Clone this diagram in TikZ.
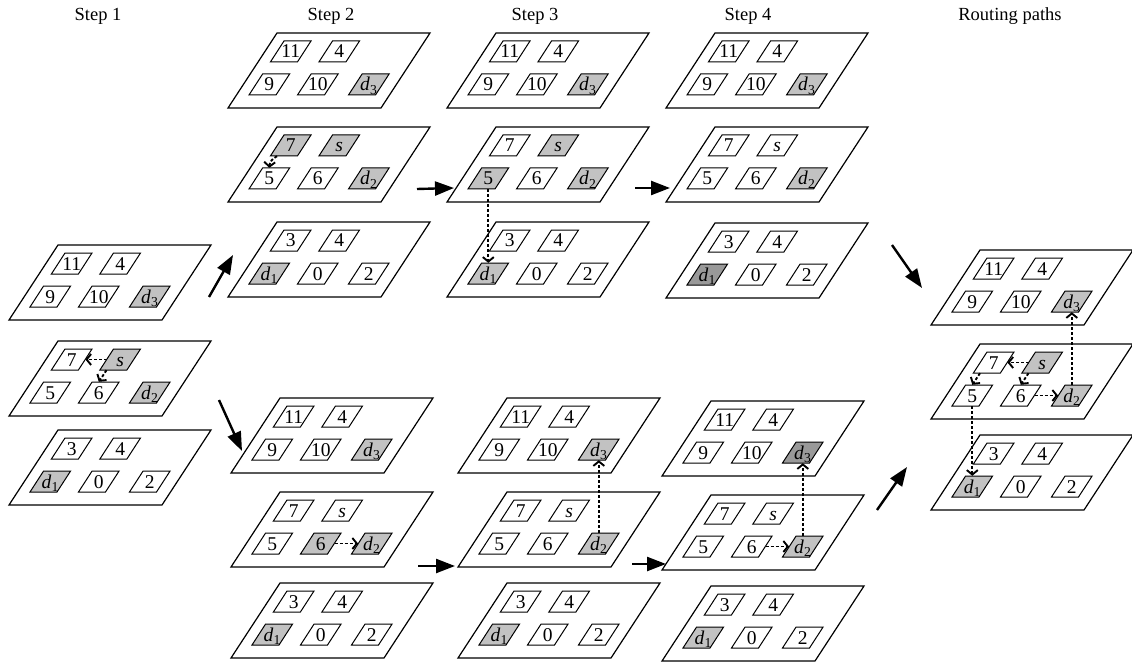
\documentclass[tikz,border=0pt]{standalone}
\usepackage{fontspec}
\setmainfont{Liberation Serif}
\usetikzlibrary{arrows.meta}
\definecolor{lg}{gray}{0.76}
\definecolor{dg}{gray}{0.6}
\newcommand\dsub[1]{\textit{d}\textsubscript{#1}}
\tikzset{
  layerline/.style={draw, line width=1.2pt, fill=white},
  cellline/.style={draw, line width=1pt},
  cell/.style={inner sep=0pt, minimum width=27pt, minimum height=21pt,
    font=\fontsize{19.5}{19.5}\selectfont, text height=13pt, text depth=0pt},
  head/.style={anchor=base, inner sep=0pt, font=\fontsize{18.5}{18.5}\selectfont},
  dasharr/.style={line width=1.9pt, dash pattern=on 3pt off 2pt, -{Straight Barb[length=4.5pt,width=11pt]}},
  bigarr/.style={line width=2.4pt, -{Triangle[length=19pt,width=14pt]}}
}
% cell: name, centre x, centre y, fill, text
\newcommand\cel[5]{%
  \filldraw[cellline, fill=#4] (#2-20.3,#3+10.5) -- ++(27,0) -- ++(13.6,-21) -- ++(-27,0) -- cycle;
  \node[cell] (#1) at (#2,#3) {#5};}
% layer: name, bottom-left x, bottom y
\newcommand\lay[3]{%
  \filldraw[layerline] (#2,#3) -- ++(153,0) -- ++(49,-75) -- ++(-153,0) -- cycle;
  \coordinate (#1) at (#2+101,#3-37.5);}
\newcommand\layerT[8]{%
  \lay{#1}{#2}{#3}%
  \cel{#1-11}{#2+62.7}{#3-56.5}{#4}{11}%
  \cel{#1-4}{#2+111.2}{#3-56.5}{#5}{4}%
  \cel{#1-9}{#2+41.3}{#3-23.5}{#6}{9}%
  \cel{#1-10}{#2+89.8}{#3-23.5}{#7}{10}%
  \cel{#1-d3}{#2+140.8}{#3-23.5}{#8}{\dsub{3}}}
\newcommand\layerM[8]{%
  \lay{#1}{#2}{#3}%
  \cel{#1-7}{#2+62.7}{#3-56.5}{#4}{7}%
  \cel{#1-s}{#2+111.2}{#3-56.5}{#5}{\textit{s}}%
  \cel{#1-5}{#2+41.3}{#3-23.5}{#6}{5}%
  \cel{#1-6}{#2+89.8}{#3-23.5}{#7}{6}%
  \cel{#1-d2}{#2+140.8}{#3-23.5}{#8}{\dsub{2}}}
\newcommand\layerB[8]{%
  \lay{#1}{#2}{#3}%
  \cel{#1-3}{#2+62.7}{#3-56.5}{#4}{3}%
  \cel{#1-4}{#2+111.2}{#3-56.5}{#5}{4}%
  \cel{#1-d1}{#2+41.3}{#3-23.5}{#6}{\dsub{1}}%
  \cel{#1-0}{#2+89.8}{#3-23.5}{#7}{0}%
  \cel{#1-2}{#2+140.8}{#3-23.5}{#8}{2}}
\begin{document}
\begin{tikzpicture}[x=1pt,y=-1pt]
\useasboundingbox (0,0) rectangle (1132,663);
% headings
\node[head] (h1) at (98,21) {Step 1};
\node[head] (h2) at (331,21) {Step 2};
\node[head] (h3) at (535,21) {Step 3};
\node[head] (h4) at (748,21) {Step 4};
\node[head] (h5) at (1010,21) {Routing paths};
% Step 1
\layerT{S1t}{9}{320}{white}{white}{white}{white}{lg}
\layerM{S1m}{9}{416}{white}{lg}{white}{white}{lg}
\layerB{S1b}{9}{505}{white}{white}{lg}{white}{white}
% Step 2 upper
\layerT{S2ut}{228}{108}{white}{white}{white}{white}{lg}
\layerM{S2um}{228}{202}{lg}{lg}{white}{white}{lg}
\layerB{S2ub}{228}{297}{white}{white}{lg}{white}{white}
% Step 3 upper
\layerT{S3ut}{447}{108}{white}{white}{white}{white}{lg}
\layerM{S3um}{447}{202}{white}{lg}{lg}{white}{lg}
\layerB{S3ub}{447}{297}{white}{white}{lg}{white}{white}
% Step 4 upper
\layerT{S4ut}{666}{108}{white}{white}{white}{white}{lg}
\layerM{S4um}{666}{202}{white}{white}{white}{white}{lg}
\layerB{S4ub}{666}{298}{white}{white}{dg}{white}{white}
% Routing
\layerT{Rt}{931}{325}{white}{white}{white}{white}{lg}
\layerM{Rm}{931}{419}{white}{lg}{white}{white}{lg}
\layerB{Rb}{931}{510}{white}{white}{lg}{white}{white}
% Step 2 lower
\layerT{S2lt}{231}{473}{white}{white}{white}{white}{lg}
\layerM{S2lm}{231}{567}{white}{white}{white}{lg}{lg}
\layerB{S2lb}{231}{658}{white}{white}{lg}{white}{white}
% Step 3 lower
\layerT{S3lt}{458}{473}{white}{white}{white}{white}{lg}
\layerM{S3lm}{458}{567}{white}{white}{white}{white}{lg}
\layerB{S3lb}{458}{658}{white}{white}{lg}{white}{white}
% Step 4 lower
\layerT{S4lt}{662}{476}{white}{white}{white}{white}{dg}
\layerM{S4lm}{662}{570}{white}{white}{white}{white}{lg}
\layerB{S4lb}{662}{661}{white}{white}{lg}{white}{white}
% dashed routing arrows
\draw[dasharr] (S1m-s.west) -- (S1m-7.east);
\draw[dasharr] (S1m-s.south west) -- (S1m-6.north);
\draw[dasharr] (S2um-7.south west) to[bend right=30] (S2um-5.north);
\draw[dasharr] (S3um-5.south) -- (S3um-5.south |- S3ub-d1.north);
\draw[dasharr] (Rm-s.west) -- (Rm-7.east);
\draw[dasharr] (Rm-7.south west) -- (Rm-5.north);
\draw[dasharr] (Rm-s.south west) -- (Rm-6.north);
\draw[dasharr] (Rm-6.east) -- (Rm-d2.west);
\draw[dasharr] (Rm-d2.north) -- (Rm-d2.north |- Rt-d3.south);
\draw[dasharr] (Rm-5.south) -- (Rm-5.south |- Rb-d1.north);
\draw[dasharr] (S2lm-6.east) -- (S2lm-d2.west);
\draw[dasharr] (S3lm-d2.north) -- (S3lm-d2.north |- S3lt-d3.south);
\draw[dasharr] (S4lm-6.east) -- (S4lm-d2.west);
\draw[dasharr] (S4lm-d2.north) -- (S4lm-d2.north |- S4lt-d3.south);
% big arrows
\coordinate (a1s) at (209,297); \coordinate (a1e) at (233,255);
\coordinate (a2s) at (219,400); \coordinate (a2e) at (242,451);
\coordinate (a3s) at (417,189); \coordinate (a3e) at (454,188);
\coordinate (a4s) at (635,188); \coordinate (a4e) at (670,188);
\coordinate (a5s) at (892,245); \coordinate (a5e) at (922,288);
\coordinate (a6s) at (418,566); \coordinate (a6e) at (455,566);
\coordinate (a7s) at (632,564); \coordinate (a7e) at (666,564);
\coordinate (a8s) at (877,510); \coordinate (a8e) at (907,467);
\draw[bigarr] (a1s) -- (a1e);
\draw[bigarr] (a2s) -- (a2e);
\draw[bigarr] (a3s) -- (a3e);
\draw[bigarr] (a4s) -- (a4e);
\draw[bigarr] (a5s) -- (a5e);
\draw[bigarr] (a6s) -- (a6e);
\draw[bigarr] (a7s) -- (a7e);
\draw[bigarr] (a8s) -- (a8e);
\end{tikzpicture}
\end{document}
